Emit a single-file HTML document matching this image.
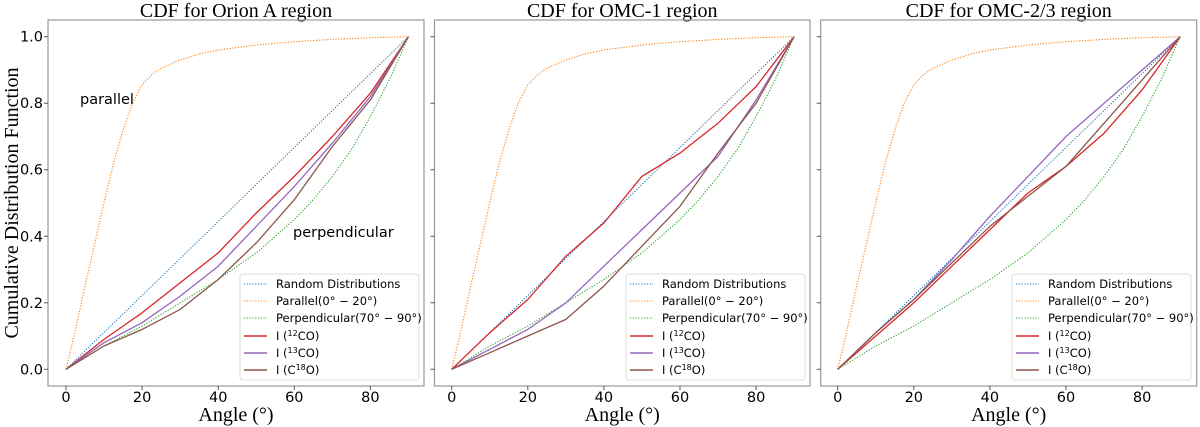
<!DOCTYPE html>
<html><head><meta charset="utf-8"><style>
body{margin:0;background:#fff}
svg{display:block}
.t{font-family:"Liberation Serif",serif;font-size:20px;fill:#000}
.k{font-family:"DejaVu Sans","Liberation Sans",sans-serif;font-size:14.5px;fill:#000}
.l{font-family:"DejaVu Sans","Liberation Sans",sans-serif;font-size:11.5px;fill:#000}
</style></head><body>
<svg id="c" width="1200" height="427" xmlns="http://www.w3.org/2000/svg"></svg>
<script>
const titles=["CDF for Orion A region","CDF for OMC-1 region","CDF for OMC-2/3 region"];
const angles=[0,10,20,30,40,50,60,70,80,90];
const parAngles=[0,2.5,5,7.5,10,12.5,15,17.5,20,22.5,25,30,35,40,50,60,70,80,90];
const parallelVals=[0,0.12,0.25,0.375,0.5,0.62,0.72,0.8,0.855,0.885,0.905,0.93,0.948,0.96,0.975,0.985,0.992,0.997,1];
const randomVals=[0,0.111,0.222,0.333,0.444,0.556,0.667,0.778,0.889,1];
const perpAngles=[0,5,10,15,20,25,30,35,40,45,50,55,60,65,70,75,80,85,90];
const perpVals=[0,0.035,0.07,0.1,0.13,0.165,0.20,0.235,0.27,0.31,0.35,0.40,0.45,0.51,0.58,0.66,0.76,0.87,1];
const co12=[[0,0.09,0.17,0.26,0.35,0.47,0.58,0.70,0.83,1],[0,0.11,0.21,0.34,0.44,0.58,0.65,0.74,0.85,1],[0,0.10,0.20,0.31,0.42,0.53,0.61,0.71,0.84,1]];
const co13=[[0,0.08,0.14,0.22,0.31,0.43,0.55,0.68,0.82,1],[0,0.06,0.12,0.20,0.31,0.42,0.53,0.64,0.81,1],[0,0.11,0.21,0.33,0.46,0.58,0.70,0.80,0.90,1]];
const c18o=[[0,0.07,0.12,0.18,0.27,0.38,0.51,0.67,0.81,1],[0,0.05,0.10,0.15,0.25,0.37,0.49,0.65,0.80,1],[0,0.11,0.21,0.32,0.43,0.52,0.61,0.74,0.87,1]];
const xTicks=[0,20,40,60,80];
const yTicks=[0,0.2,0.4,0.6,0.8,1.0];
const NS="http://www.w3.org/2000/svg";
const svgEl=document.getElementById('c');
function mk(tag,at,parent,txt){const e=document.createElementNS(NS,tag);for(const k in at)e.setAttribute(k,at[k]);if(txt!=null)e.textContent=txt;(parent||svgEl).appendChild(e);return e;}
const panels=[{l:48,r:424,x0:66},{l:434.5,r:810,x0:451.7},{l:820.7,r:1196.7,x0:837.7}];
const topY=20,botY=386,yZero=369.3,yOne=36.7,pxPer=38.05;
panels.forEach((p,i)=>{
  const g=mk('g',{});
  
  
  const X=v=>p.x0+v*pxPer/10, Y=v=>yZero-(yZero-yOne)*v;
  const tt=mk('text',{x:(p.l+p.r)/2,y:17,'text-anchor':'middle',class:'t'},g,titles[i]);
  
  
  const fr=mk('rect',{x:p.l,y:topY,width:p.r-p.l,height:botY-topY,fill:'none',stroke:'#999','stroke-width':1.2},g);
  
  
  xTicks.forEach(v=>{mk('line',{x1:X(v),x2:X(v),y1:botY,y2:botY+4,stroke:'#555'},g);
    const t=mk('text',{x:X(v),y:402,'text-anchor':'middle',class:'k'},g,String(v));
    
    });
  yTicks.forEach(v=>{mk('line',{x1:p.l-4,x2:p.l,y1:Y(v),y2:Y(v),stroke:'#555'},g);
    if(i===0){const t=mk('text',{x:43,y:Y(v)+5,'text-anchor':'end',class:'k'},g,v.toFixed(1));
    
    }});
  const xl=mk('text',{x:(p.l+p.r)/2,y:421,'text-anchor':'middle',class:'t'},g,'Angle (°)');
  
  
  const line=(xs,ys,col,dot,name)=>{const pts=xs.map((a,j)=>X(a).toFixed(1)+','+Y(ys[j]).toFixed(1)).join(' ');
    const e=mk('polyline',{points:pts,fill:'none',stroke:col,'stroke-width':dot?1.1:1.3,'stroke-dasharray':dot?'1.2,1.6':'none','stroke-linejoin':'round'},g);
    
    };
  line(angles,randomVals,'#1f77b4',true,'random-line');
  line(parAngles,parallelVals,'#ff7f0e',true,'parallel-line');
  line(perpAngles,perpVals,'#2ca02c',true,'perpendicular-line');
  line(angles,co12[i],'#d62728',false,'co12-line');
  line(angles,co13[i],'#9467bd',false,'co13-line');
  line(angles,c18o[i],'#8c564b',false,'c18o-line');
  const lx=[240,626,1012][i];
  const lg=mk('g',{},g);
  
  
  mk('rect',{x:lx,y:274,width:179,height:106,rx:3,fill:'#fff','fill-opacity':0.85,stroke:'#ddd'},lg);
  const items=[['Random Distributions','#1f77b4',1],['Parallel(0° − 20°)','#ff7f0e',1],['Perpendicular(70° − 90°)','#2ca02c',1],['I (<sup>12</sup>CO)','#d62728',0],['I (<sup>13</sup>CO)','#9467bd',0],['I (C<sup>18</sup>O)','#8c564b',0]];
  items.forEach((it,j)=>{const yy=284+j*17+(j>2?1:0);
    mk('line',{x1:lx+4,x2:lx+27,y1:yy,y2:yy,stroke:it[1],'stroke-width':it[2]?1.1:1.5,'stroke-dasharray':it[2]?'1.2,1.6':'none'},lg);
    const t=mk('text',{x:lx+36,y:yy+4,class:'l'},lg);
    const parts=it[0].split(/<sup>|<\/sup>/);
    parts.forEach((s,k)=>{if(!s)return;mk('tspan',k%2?{'font-size':8,dy:-4}:(k>0?{dy:4}:{}),t,s);});
    
    });
});
const yl=mk('text',{x:0,y:0,transform:'translate(18,203) rotate(-90)','text-anchor':'middle',class:'t'},null,'Cumulative Distribution Function');


const a1=mk('text',{x:80,y:104,class:'k'},null,'parallel');


const a2=mk('text',{x:293,y:237,class:'k'},null,'perpendicular');


</script>
</body></html>
